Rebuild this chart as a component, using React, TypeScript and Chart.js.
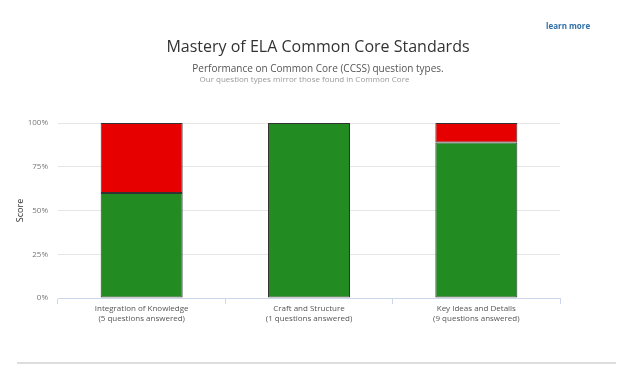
import React, { useEffect, useRef } from "react";
import { Chart, registerables } from "chart.js";

Chart.register(...registerables);

const categories = ["Integration of Knowledge", "Craft and Structure", "Key Ideas and Details"];
const questionsAnswered = [5, 1, 9];
const correctPct = [60, 100, 88.9];
const incorrectPct = [40, 0, 11.1];
const yTicks = [0, 25, 50, 75, 100];

const FONT = "'Open Sans', 'Noto Sans', sans-serif";

export default function App() {
  const ref = useRef<HTMLCanvasElement | null>(null);

  useEffect(() => {
    document.body.style.margin = "0";
    const ctx = ref.current!;
    const labels = categories.map((c, i) => [c, `(${questionsAnswered[i]} questions answered)`]);
    const chart = new Chart(ctx, {
      type: "bar",
      data: {
        labels,
        datasets: [
          {
            label: "Correct",
            data: correctPct,
            backgroundColor: "#228b22",
            borderColor: "#333333",
            borderWidth: 1,
            borderSkipped: false,
            stack: "s",
          },
          {
            label: "Incorrect",
            data: incorrectPct,
            backgroundColor: "#e60000",
            borderColor: "#333333",
            borderWidth: 1,
            borderSkipped: false,
            stack: "s",
          },
        ],
      },
      options: {
        animation: false,
        responsive: false,
        maintainAspectRatio: false,
        layout: { padding: { left: 0, right: 64, top: 123, bottom: 30 } },
        plugins: {
          legend: { display: false },
          tooltip: { enabled: false },
          title: { display: false },
        },
        datasets: { bar: { categoryPercentage: 1, barPercentage: 0.49 } },
        scales: {
          x: {
            stacked: true,
            offset: true,
            grid: {
              display: true,
              offset: true,
              drawOnChartArea: false,
              drawTicks: true,
              tickLength: 6,
              color: "#ccd6eb",
            },
            border: { display: true, color: "#ccd6eb", width: 1 },
            ticks: {
              color: "#555555",
              font: { family: FONT, size: 8 },
              padding: 0,
              maxRotation: 0,
              autoSkip: false,
            },
            afterFit: (scale: any) => {
              scale.height = 45;
            },
          },
          y: {
            stacked: true,
            min: 0,
            max: 100,
            afterBuildTicks: (scale: any) => {
              scale.ticks = yTicks.map((v) => ({ value: v }));
            },
            grid: { color: "#e6e6e6", drawTicks: false },
            border: { display: false },
            ticks: {
              color: "#777777",
              font: { family: FONT, size: 8 },
              padding: 10,
              callback: (v: any) => `${v}%`,
            },
            title: {
              display: true,
              text: "Score",
              color: "#333333",
              font: { family: FONT, size: 9 },
              padding: { top: 15, bottom: 0 },
            },
            afterFit: (scale: any) => {
              scale.width = 58;
            },
          },
        },
      },
    });
    return () => chart.destroy();
  }, []);

  return (
    <div style={{ position: "fixed", left: 0, top: 0, width: 624, height: 373, background: "#fff", fontFamily: FONT }}>
      <canvas ref={ref} width={624} height={373} style={{ position: "absolute", left: 0, top: 0 }} />
      <a
        style={{
          position: "absolute",
          left: 546,
          top: 20,
          fontSize: 8,
          fontWeight: 700,
          color: "#2f6fa7",
          textDecoration: "none",
        }}
      >
        learn more
      </a>
      <div style={{ position: "absolute", left: 0, width: 636, top: 35, textAlign: "center", fontSize: 16, color: "#333333" }}>
        Mastery of ELA Common Core Standards
      </div>
      <div style={{ position: "absolute", left: 0, width: 636, top: 61, textAlign: "center", fontSize: 10, color: "#555555" }}>
        Performance on Common Core (CCSS) question types.
      </div>
      <div style={{ position: "absolute", left: 0, width: 609, top: 73, textAlign: "center", fontSize: 8, color: "#999999" }}>
        Our question types mirror those found in Common Core
      </div>
      <div style={{ position: "absolute", left: 17, width: 599, top: 362, height: 2, background: "#dddddd" }} />
    </div>
  );
}
